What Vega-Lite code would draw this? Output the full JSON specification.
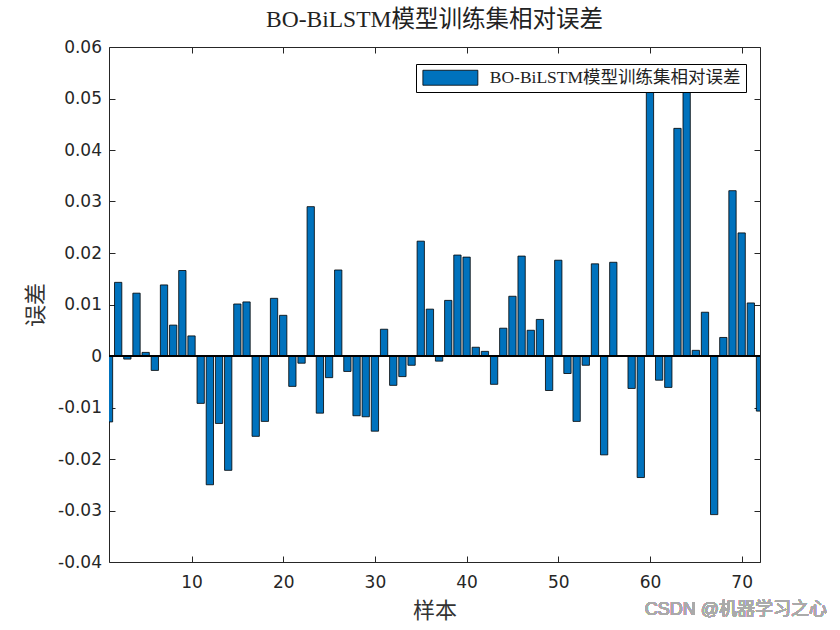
{
  "$schema": "https://vega.github.io/schema/vega-lite/v6.json",
  "autosize": "none",
  "width": 651,
  "height": 515,
  "padding": {"left": 109, "top": 47, "right": 80, "bottom": 68},
  "background": "white",
  "title": {
    "text": "BO-BiLSTM模型训练集相对误差",
    "font": "'Liberation Serif', 'Noto Sans CJK SC'",
    "fontSize": 23.5,
    "fontWeight": "normal",
    "color": "#222",
    "offset": 7,
    "anchor": "middle"
  },
  "config": {
    "view": {"stroke": null},
    "axis": {
      "grid": false,
      "domainColor": "#262626",
      "domainWidth": 1,
      "tickColor": "#262626",
      "tickSize": -6,
      "labelFont": "'DejaVu Sans'",
      "labelFontSize": 17,
      "labelColor": "#262626",
      "titleFont": "'Noto Sans CJK SC'",
      "titleFontSize": 22,
      "titleFontWeight": "normal",
      "titleColor": "#333"
    }
  },
  "data": {
    "values": [
      {"i": 1, "v": -0.0128, "s": "BO-BiLSTM模型训练集相对误差"},
      {"i": 2, "v": 0.0143, "s": "BO-BiLSTM模型训练集相对误差"},
      {"i": 3, "v": -0.0006, "s": "BO-BiLSTM模型训练集相对误差"},
      {"i": 4, "v": 0.0122, "s": "BO-BiLSTM模型训练集相对误差"},
      {"i": 5, "v": 0.0007, "s": "BO-BiLSTM模型训练集相对误差"},
      {"i": 6, "v": -0.0028, "s": "BO-BiLSTM模型训练集相对误差"},
      {"i": 7, "v": 0.0138, "s": "BO-BiLSTM模型训练集相对误差"},
      {"i": 8, "v": 0.0060, "s": "BO-BiLSTM模型训练集相对误差"},
      {"i": 9, "v": 0.0166, "s": "BO-BiLSTM模型训练集相对误差"},
      {"i": 10, "v": 0.0039, "s": "BO-BiLSTM模型训练集相对误差"},
      {"i": 11, "v": -0.0092, "s": "BO-BiLSTM模型训练集相对误差"},
      {"i": 12, "v": -0.0250, "s": "BO-BiLSTM模型训练集相对误差"},
      {"i": 13, "v": -0.0131, "s": "BO-BiLSTM模型训练集相对误差"},
      {"i": 14, "v": -0.0222, "s": "BO-BiLSTM模型训练集相对误差"},
      {"i": 15, "v": 0.0101, "s": "BO-BiLSTM模型训练集相对误差"},
      {"i": 16, "v": 0.0105, "s": "BO-BiLSTM模型训练集相对误差"},
      {"i": 17, "v": -0.0156, "s": "BO-BiLSTM模型训练集相对误差"},
      {"i": 18, "v": -0.0127, "s": "BO-BiLSTM模型训练集相对误差"},
      {"i": 19, "v": 0.0112, "s": "BO-BiLSTM模型训练集相对误差"},
      {"i": 20, "v": 0.0079, "s": "BO-BiLSTM模型训练集相对误差"},
      {"i": 21, "v": -0.0059, "s": "BO-BiLSTM模型训练集相对误差"},
      {"i": 22, "v": -0.0014, "s": "BO-BiLSTM模型训练集相对误差"},
      {"i": 23, "v": 0.0290, "s": "BO-BiLSTM模型训练集相对误差"},
      {"i": 24, "v": -0.0111, "s": "BO-BiLSTM模型训练集相对误差"},
      {"i": 25, "v": -0.0042, "s": "BO-BiLSTM模型训练集相对误差"},
      {"i": 26, "v": 0.0167, "s": "BO-BiLSTM模型训练集相对误差"},
      {"i": 27, "v": -0.0030, "s": "BO-BiLSTM模型训练集相对误差"},
      {"i": 28, "v": -0.0116, "s": "BO-BiLSTM模型训练集相对误差"},
      {"i": 29, "v": -0.0118, "s": "BO-BiLSTM模型训练集相对误差"},
      {"i": 30, "v": -0.0146, "s": "BO-BiLSTM模型训练集相对误差"},
      {"i": 31, "v": 0.0052, "s": "BO-BiLSTM模型训练集相对误差"},
      {"i": 32, "v": -0.0057, "s": "BO-BiLSTM模型训练集相对误差"},
      {"i": 33, "v": -0.0040, "s": "BO-BiLSTM模型训练集相对误差"},
      {"i": 34, "v": -0.0018, "s": "BO-BiLSTM模型训练集相对误差"},
      {"i": 35, "v": 0.0223, "s": "BO-BiLSTM模型训练集相对误差"},
      {"i": 36, "v": 0.0091, "s": "BO-BiLSTM模型训练集相对误差"},
      {"i": 37, "v": -0.0010, "s": "BO-BiLSTM模型训练集相对误差"},
      {"i": 38, "v": 0.0108, "s": "BO-BiLSTM模型训练集相对误差"},
      {"i": 39, "v": 0.0196, "s": "BO-BiLSTM模型训练集相对误差"},
      {"i": 40, "v": 0.0192, "s": "BO-BiLSTM模型训练集相对误差"},
      {"i": 41, "v": 0.0017, "s": "BO-BiLSTM模型训练集相对误差"},
      {"i": 42, "v": 0.0009, "s": "BO-BiLSTM模型训练集相对误差"},
      {"i": 43, "v": -0.0055, "s": "BO-BiLSTM模型训练集相对误差"},
      {"i": 44, "v": 0.0054, "s": "BO-BiLSTM模型训练集相对误差"},
      {"i": 45, "v": 0.0116, "s": "BO-BiLSTM模型训练集相对误差"},
      {"i": 46, "v": 0.0194, "s": "BO-BiLSTM模型训练集相对误差"},
      {"i": 47, "v": 0.0050, "s": "BO-BiLSTM模型训练集相对误差"},
      {"i": 48, "v": 0.0071, "s": "BO-BiLSTM模型训练集相对误差"},
      {"i": 49, "v": -0.0067, "s": "BO-BiLSTM模型训练集相对误差"},
      {"i": 50, "v": 0.0186, "s": "BO-BiLSTM模型训练集相对误差"},
      {"i": 51, "v": -0.0034, "s": "BO-BiLSTM模型训练集相对误差"},
      {"i": 52, "v": -0.0127, "s": "BO-BiLSTM模型训练集相对误差"},
      {"i": 53, "v": -0.0018, "s": "BO-BiLSTM模型训练集相对误差"},
      {"i": 54, "v": 0.0179, "s": "BO-BiLSTM模型训练集相对误差"},
      {"i": 55, "v": -0.0192, "s": "BO-BiLSTM模型训练集相对误差"},
      {"i": 56, "v": 0.0182, "s": "BO-BiLSTM模型训练集相对误差"},
      {"i": 57, "v": 0.0, "s": "BO-BiLSTM模型训练集相对误差"},
      {"i": 58, "v": -0.0063, "s": "BO-BiLSTM模型训练集相对误差"},
      {"i": 59, "v": -0.0236, "s": "BO-BiLSTM模型训练集相对误差"},
      {"i": 60, "v": 0.0540, "s": "BO-BiLSTM模型训练集相对误差"},
      {"i": 61, "v": -0.0047, "s": "BO-BiLSTM模型训练集相对误差"},
      {"i": 62, "v": -0.0061, "s": "BO-BiLSTM模型训练集相对误差"},
      {"i": 63, "v": 0.0442, "s": "BO-BiLSTM模型训练集相对误差"},
      {"i": 64, "v": 0.0540, "s": "BO-BiLSTM模型训练集相对误差"},
      {"i": 65, "v": 0.0011, "s": "BO-BiLSTM模型训练集相对误差"},
      {"i": 66, "v": 0.0085, "s": "BO-BiLSTM模型训练集相对误差"},
      {"i": 67, "v": -0.0308, "s": "BO-BiLSTM模型训练集相对误差"},
      {"i": 68, "v": 0.0036, "s": "BO-BiLSTM模型训练集相对误差"},
      {"i": 69, "v": 0.0321, "s": "BO-BiLSTM模型训练集相对误差"},
      {"i": 70, "v": 0.0239, "s": "BO-BiLSTM模型训练集相对误差"},
      {"i": 71, "v": 0.0103, "s": "BO-BiLSTM模型训练集相对误差"},
      {"i": 72, "v": -0.0107, "s": "BO-BiLSTM模型训练集相对误差"}
    ]
  },
  "layer": [
    {
      "mark": {"type": "bar", "size": 7.3, "clip": true, "stroke": "#000", "strokeWidth": 0.8},
      "encoding": {
        "x": {
          "field": "i", "type": "quantitative",
          "scale": {"domain": [1, 72], "nice": false, "zero": false, "padding": 0},
          "axis": {
            "orient": "bottom", "values": [10, 20, 30, 40, 50, 60, 70],
            "title": "样本", "labelPadding": 18, "titlePadding": 10
          }
        },
        "y": {
          "field": "v", "type": "quantitative",
          "scale": {"domain": [-0.04, 0.06], "nice": false, "padding": 0},
          "axis": {
            "orient": "left",
            "values": [-0.04, -0.03, -0.02, -0.01, 0, 0.01, 0.02, 0.03, 0.04, 0.05, 0.06],
            "labelExpr": "datum.value == 0 ? '0' : (datum.value < 0 ? '-' + format(-datum.value, '.2f') : format(datum.value, '.2f'))",
            "title": "误差", "labelPadding": 13.5, "titlePadding": 10
          }
        },
        "color": {
          "field": "s", "type": "nominal",
          "scale": {"range": ["#0072BD"]},
          "legend": {
            "title": null,
            "orient": "none",
            "legendX": 307,
            "legendY": 17,
            "fillColor": "white",
            "strokeColor": "#000",
            "padding": 5,
            "symbolType": "M-1,-1.09H7V1.09H-1Z",
            "symbolSize": 189,
            "symbolStrokeColor": "#000",
            "symbolStrokeWidth": 0.8,
            "symbolOpacity": 1,
            "labelFont": "'Liberation Serif', 'Noto Sans CJK SC'",
            "labelFontSize": 17.5,
            "labelColor": "#222",
            "labelOffset": 51.25,
            "labelLimit": 400
          }
        }
      }
    },
    {
      "mark": {"type": "rule", "color": "#000", "strokeWidth": 1},
      "encoding": {
        "x": {"datum": 1, "type": "quantitative", "axis": {"orient": "top", "values": [10, 20, 30, 40, 50, 60, 70], "labels": false, "title": null}},
        "x2": {"datum": 72},
        "y": {"datum": 0, "type": "quantitative", "axis": {"orient": "right", "values": [-0.04, -0.03, -0.02, -0.01, 0, 0.01, 0.02, 0.03, 0.04, 0.05, 0.06], "labels": false, "title": null}}
      }
    },
    {
      "mark": {"type": "text", "align": "right", "baseline": "middle", "clip": false, "font": "'Liberation Sans', 'Noto Sans CJK SC'", "fontSize": 18, "color": "#aaaaaa"},
      "encoding": {
        "x": {"datum": 79.3, "type": "quantitative", "axis": null},
        "y": {"datum": -0.0493, "type": "quantitative", "axis": null},
        "text": {"value": "CSDN @机器学习之心"}
      }
    }
  ],
  "resolve": {"axis": {"x": "independent", "y": "independent"}}
}
